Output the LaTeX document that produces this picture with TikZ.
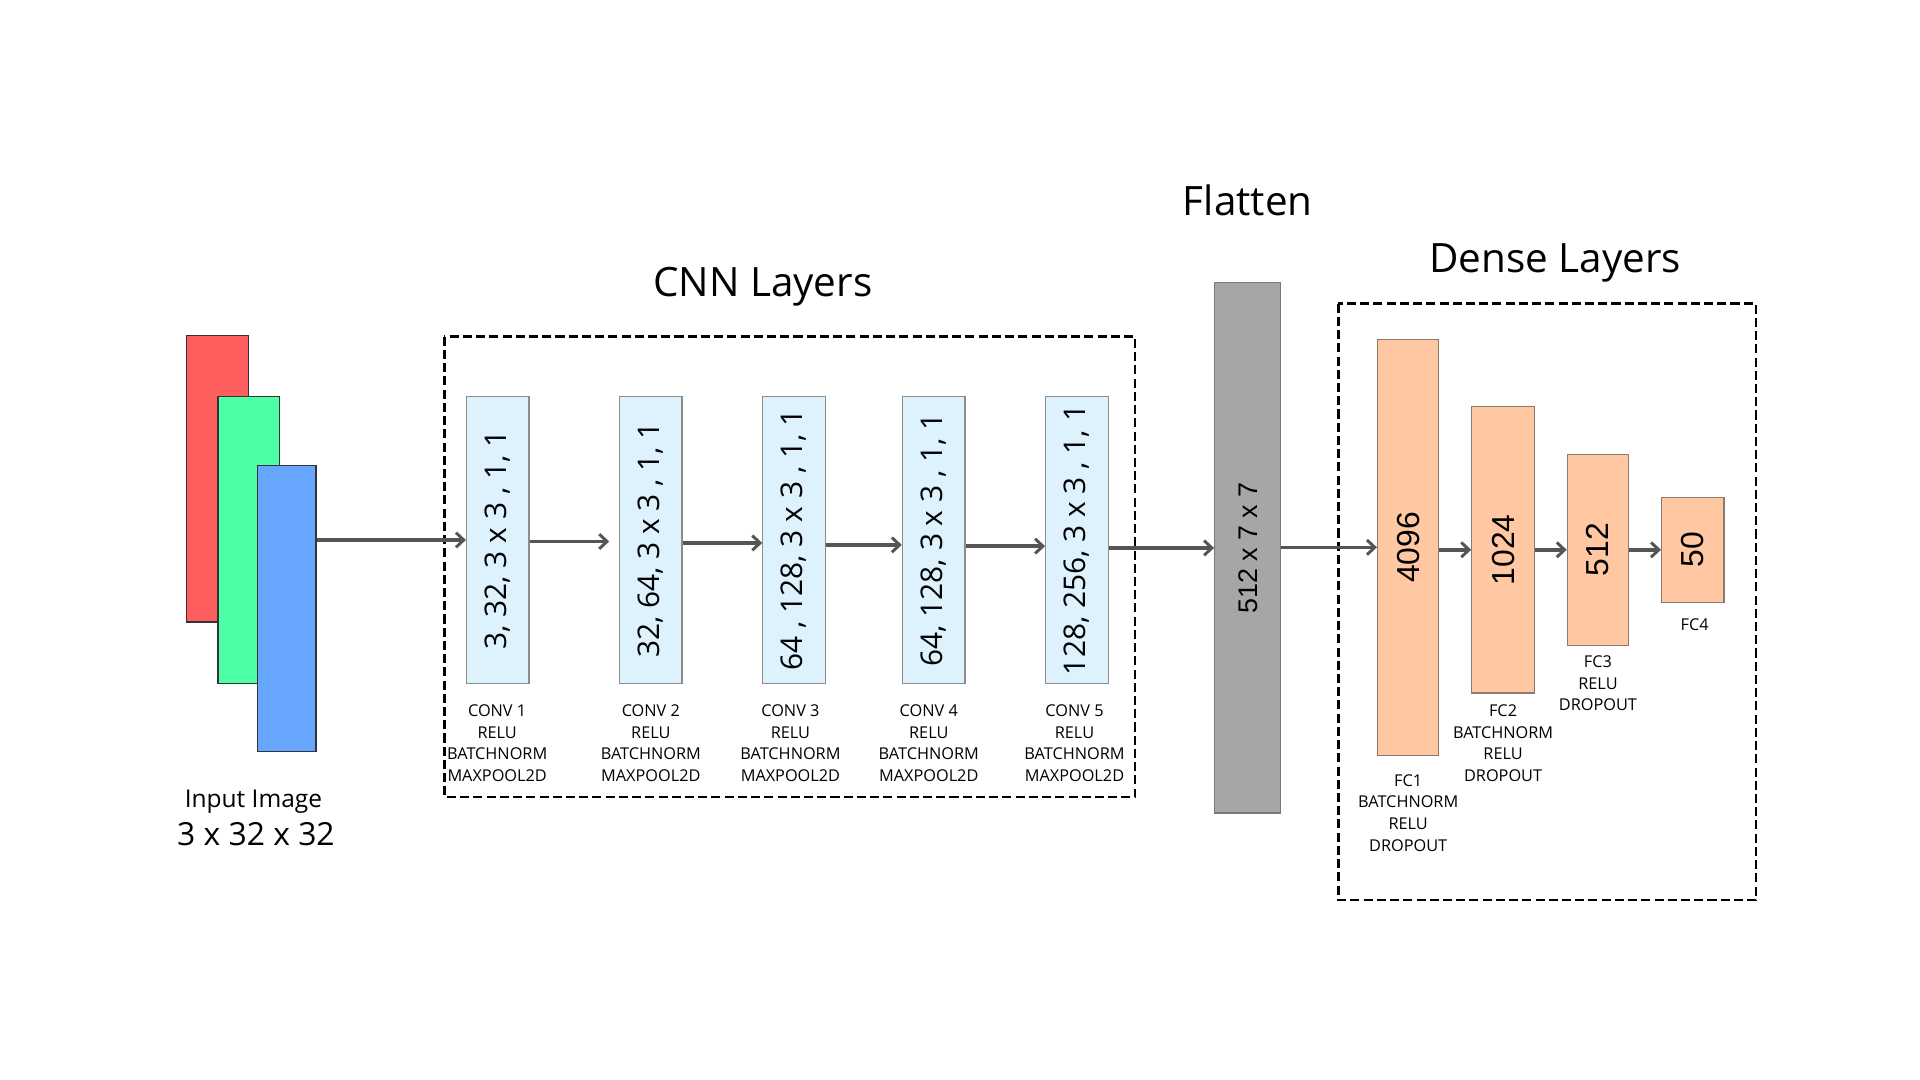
\documentclass[tikz,border=0pt]{standalone}
\usepackage{fontspec}
\setmainfont{Open Sans}
\newfontfamily\arialf{Liberation Sans}
\usetikzlibrary{arrows.meta}
\definecolor{cred}{HTML}{FF5E5E}
\definecolor{cgreen}{HTML}{4DFFA6}
\definecolor{cblue}{HTML}{66A6FF}
\definecolor{cconv}{HTML}{DDF2FD}
\definecolor{cconvb}{HTML}{8C8C8C}
\definecolor{cflat}{HTML}{A6A6A6}
\definecolor{cflatb}{HTML}{7A7A7A}
\definecolor{cfc}{HTML}{FFC8A2}
\definecolor{cfcb}{HTML}{8A7A70}
\definecolor{carr}{HTML}{555555}
\begin{document}
\begin{tikzpicture}[x=0.5pt,y=-0.5pt,
  inrect/.style={draw=black!80, line width=0.5pt, inner sep=0pt},
  convbox/.style={draw=cconvb, fill=cconv, line width=0.5pt, inner sep=0pt,
    minimum width=25.5pt, minimum height=117pt, font=\fontsize{12.2}{14}\selectfont},
  fcbox/.style={draw=cfcb, fill=cfc, line width=0.5pt, inner sep=0pt,
    minimum width=25pt, font=\arialf\fontsize{13}{15}\selectfont},
  flatbox/.style={draw=cflatb, fill=cflat, line width=0.5pt, inner sep=0pt,
    minimum width=27pt, minimum height=216.5pt, font=\arialf\fontsize{11}{13}\selectfont},
  lab/.style={align=center, inner sep=0pt, font=\fontsize{6.65}{8.9}\selectfont},
  ttl/.style={inner sep=0pt, font=\fontsize{16.5}{19}\selectfont},
  dbox/.style={draw=black, line width=1.1pt, dash pattern=on 3.7pt off 1.7pt},
  arr/.style={draw=carr, line width=1.4pt, -{Straight Barb[length=3.2pt,width=6pt,line width=1.2pt]}}
]
\useasboundingbox (0,0) rectangle (1568,882);

% input image
\node[inrect, fill=cred, minimum width=25.5pt, minimum height=117pt] (red) at (177.5,391) {};
\node[inrect, fill=cgreen, minimum width=25pt, minimum height=117pt] (green) at (203,441) {};
\node[inrect, fill=cblue, minimum width=24pt, minimum height=117pt] (blue) at (234,497) {};
\node[inner sep=0pt, font=\fontsize{10}{12}\selectfont] (inlab) at (207,655) {Input Image};
\node[inner sep=0pt, font=\fontsize{13}{15}\selectfont] (indim) at (209,681) {3 x 32 x 32};

% CNN block
\node[ttl] (cnnt) at (623,234) {CNN Layers};
\draw[dbox] (363,275) rectangle (927,651);

\node[convbox] (c1) at (406.5,441) {\rotatebox{90}{3, 32, 3 x 3 , 1, 1}};
\node[convbox] (c2) at (531.5,441) {\rotatebox{90}{32, 64, 3 x 3 , 1, 1}};
\node[convbox] (c3) at (648.5,441) {\rotatebox{90}{64 , 128, 3 x 3 , 1, 1}};
\node[convbox] (c4) at (762.5,441) {\rotatebox{90}{64, 128, 3 x 3 , 1, 1}};
\node[convbox] (c5) at (879.5,441) {\rotatebox{90}{128, 256, 3 x 3 , 1, 1}};

\node[lab] (l1) at (406,607) {CONV 1\\RELU\\BATCHNORM\\MAXPOOL2D};
\node[lab] (l2) at (531.5,607) {CONV 2\\RELU\\BATCHNORM\\MAXPOOL2D};
\node[lab] (l3) at (645.5,607) {CONV 3\\RELU\\BATCHNORM\\MAXPOOL2D};
\node[lab] (l4) at (758.5,607) {CONV 4\\RELU\\BATCHNORM\\MAXPOOL2D};
\node[lab] (l5) at (877.5,607) {CONV 5\\RELU\\BATCHNORM\\MAXPOOL2D};

% Flatten
\node[ttl] (flt) at (1019,164) {Flatten};
\node[flatbox] (fl) at (1019,447.5) {\rotatebox{90}{512 x 7 x 7}};

% Dense block
\node[ttl] (dnt) at (1270,215) {Dense Layers};
\draw[dbox] (1093,248) rectangle (1434,735);

\node[fcbox, minimum height=170pt] (f1) at (1150,447) {\rotatebox{90}{4096}};
\node[fcbox, minimum height=117pt, minimum width=25.5pt] (f2) at (1227.5,449) {\rotatebox{90}{1024}};
\node[fcbox, minimum height=78pt] (f3) at (1305,449) {\rotatebox{90}{512}};
\node[fcbox, minimum height=43pt, minimum width=25.5pt] (f4) at (1382.5,449) {\rotatebox{90}{50}};

\node[lab] (fl1) at (1150,664) {FC1\\BATCHNORM\\RELU\\DROPOUT};
\node[lab] (fl2) at (1227.5,607) {FC2\\BATCHNORM\\RELU\\DROPOUT};
\node[lab] (fl3) at (1305,558) {FC3\\RELU\\DROPOUT};
\node[lab] (fl4) at (1384,510) {FC4};

% connectors
\draw[arr] (c1.west -| blue.east) -- (c1.west);
\draw[arr, shorten >=4pt] ([yshift=-0.6pt]c1.east) -- ([yshift=-0.6pt]c2.west);
\draw[arr] ([yshift=-1.2pt]c2.east) -- ([yshift=-1.2pt]c3.west);
\draw[arr] ([yshift=-2pt]c3.east) -- ([yshift=-2pt]c4.west);
\draw[arr] ([yshift=-2.5pt]c4.east) -- ([yshift=-2.5pt]c5.west);
\draw[arr] (fl.west -| c5.east) -- (fl.west);
\draw[arr] (f1.west -| fl.east) -- (f1.west);
\draw[arr] (f2.west -| f1.east) -- (f2.west);
\draw[arr] (f3.west -| f2.east) -- (f3.west);
\draw[arr] (f4.west -| f3.east) -- (f4.west);
\end{tikzpicture}
\end{document}
